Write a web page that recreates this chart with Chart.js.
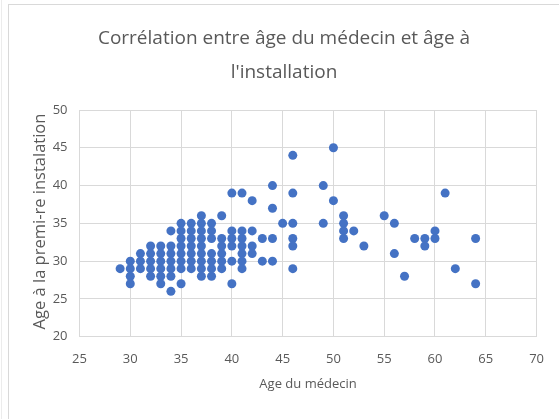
<!DOCTYPE html>
<html>
<head>
<meta charset="utf-8">
<script src="https://cdn.jsdelivr.net/npm/chart.js@4"></script>
<style>
  html, body { margin: 0; padding: 0; background: #fff; }
  #wrap { width: 559px; height: 419px; }
</style>
</head>
<body>
<div id="wrap"><canvas id="scatter" width="559" height="419"></canvas></div>
<script>
// doctor's age (x) and, for each, the ages at first installation (y)
const doctorAges = [29, 30, 31, 32, 33, 34, 35, 36, 37, 38, 39, 40, 41, 42, 43, 44, 45, 46, 49, 50, 51, 52, 53, 55, 56, 57, 58, 59, 60, 61, 62, 64];
const installAges = [
    [29],
    [30, 29, 28, 27],
    [31, 30, 29],
    [32, 31, 30, 29, 28],
    [32, 31, 30, 29, 28, 27],
    [34, 32, 31, 30, 29, 28, 26],
    [35, 34, 33, 32, 31, 30, 29, 27],
    [35, 34, 33, 32, 31, 30, 29],
    [36, 35, 34, 33, 32, 31, 30, 29, 28],
    [35, 34, 33, 31, 30, 29, 28],
    [36, 33, 32, 31, 30, 29],
    [39, 34, 33, 32, 30, 27],
    [39, 34, 33, 32, 31, 30, 29],
    [38, 34, 32, 31],
    [33, 30],
    [40, 37, 33, 30],
    [35],
    [44, 39, 35, 33, 32, 29],
    [40, 35],
    [45, 38],
    [36, 35, 34, 33],
    [34],
    [32],
    [36],
    [35, 31],
    [28],
    [33],
    [33, 32],
    [34, 33],
    [39],
    [29],
    [33, 27]
];
const xTicks = [25, 30, 35, 40, 45, 50, 55, 60, 65, 70];
const yTicks = [20, 25, 30, 35, 40, 45, 50];
const titleLines = ["Corrélation entre âge du médecin et âge à", "l'installation"];
const xTitle = 'Age du médecin';
const yTitle = 'Age à la premi-re instalation';

const points = [];
doctorAges.forEach((x, i) => installAges[i].forEach(y => points.push({ x: x, y: y })));

const grey = '#595959';
const gridCol = '#d9d9d9';
const fam = "'Open Sans', sans-serif";

// white background + outer frame like the spreadsheet chart box
const framePlugin = {
    id: 'frame',
    beforeDraw(chart) {
        const c = chart.ctx;
        c.save();
        c.fillStyle = '#fff';
        c.fillRect(0, 0, chart.width, chart.height);
        c.strokeStyle = gridCol;
        c.lineWidth = 1;
        c.strokeRect(8.5, 4.5, chart.width, chart.height);
        c.strokeStyle = '#ececec';
        c.beginPath(); c.moveTo(1.5, 0); c.lineTo(1.5, chart.height); c.stroke();
        c.restore();
    }
};

// chart + axis titles, placed where the spreadsheet put them
const titlesPlugin = {
    id: 'titles',
    afterDraw(chart) {
        const c = chart.ctx;
        const area = chart.chartArea;
        c.save();
        c.fillStyle = grey;
        c.textAlign = 'center';
        c.textBaseline = 'middle';
        c.font = '19px ' + fam;
        titleLines.forEach((t, i) => c.fillText(t, 284, 39 + i * 34));
        c.font = '13px ' + fam;
        c.fillText(xTitle, (area.left + area.right) / 2, 384);
        c.translate(40, 221.5);
        c.rotate(-Math.PI / 2);
        c.font = '16.5px ' + fam;
        c.fillText(yTitle, 0, 0);
        c.restore();
    }
};

new Chart(document.getElementById('scatter').getContext('2d'), {
    type: 'scatter',
    data: {
        datasets: [{
            data: points,
            backgroundColor: '#4472C4',
            borderColor: '#4472C4',
            borderWidth: 0,
            pointRadius: 4.5,
            pointHoverRadius: 4.5
        }]
    },
    options: {
        responsive: false,
        animation: false,
        layout: { padding: { left: 0, right: 20.5, top: 110, bottom: 0 } },
        plugins: {
            legend: { display: false },
            tooltip: { enabled: false },
            title: { display: false }
        },
        scales: {
            x: {
                type: 'linear', min: 25, max: 70,
                afterBuildTicks: s => { s.ticks = xTicks.map(v => ({ value: v })); },
                afterFit: s => { s.height = 82.3; },
                grid: { color: gridCol, drawTicks: false },
                border: { color: gridCol },
                ticks: { color: grey, font: { family: fam, size: 13 }, padding: 15 }
            },
            y: {
                type: 'linear', min: 20, max: 50,
                afterBuildTicks: s => { s.ticks = yTicks.map(v => ({ value: v })); },
                afterFit: s => { s.width = 79.5; },
                grid: { color: gridCol, drawTicks: false },
                border: { color: gridCol },
                ticks: { color: grey, font: { family: fam, size: 13 }, padding: 12 }
            }
        }
    },
    plugins: [framePlugin, titlesPlugin]
});
</script>
</body>
</html>
